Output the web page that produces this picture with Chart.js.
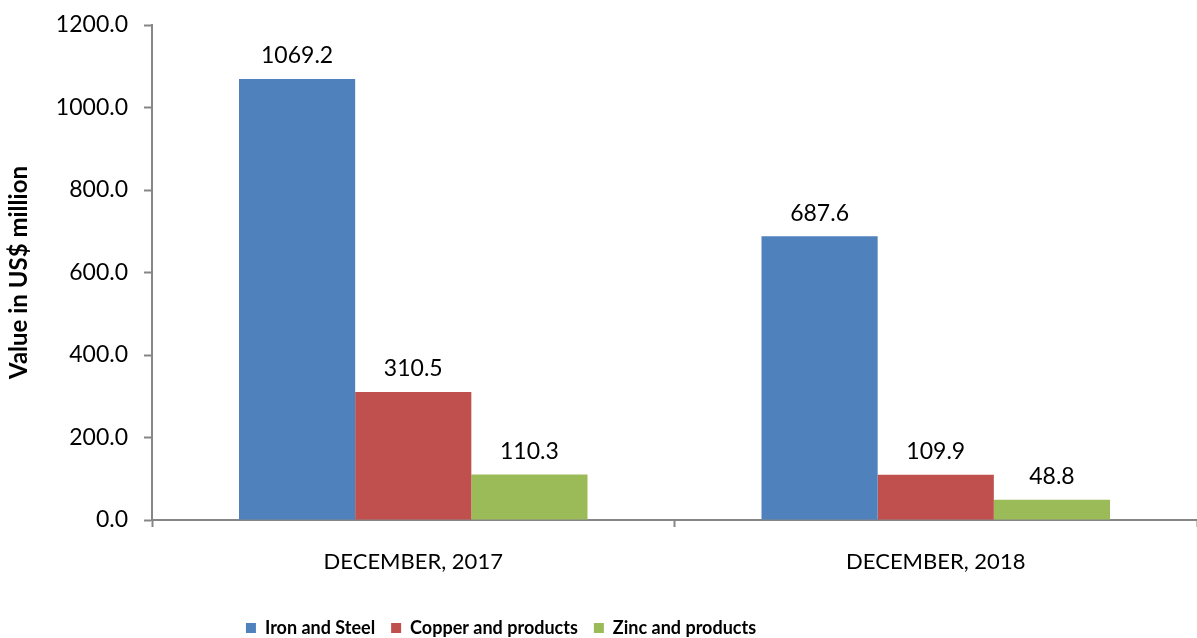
<!DOCTYPE html>
<html>
<head>
<meta charset="utf-8">
<script src="https://cdn.jsdelivr.net/npm/chart.js@4/dist/chart.umd.min.js"></script>
<style>
  html, body { margin: 0; padding: 0; background: #fff; }
  #wrap { width: 1197px; height: 638px; position: relative; }
</style>
</head>
<body>
<div id="wrap"><canvas id="chart"></canvas></div>
<script>
const categories = ['DECEMBER, 2017', 'DECEMBER, 2018'];
const seriesNames = ['Iron and Steel', 'Copper and products', 'Zinc and products'];
const ironSteel = [1069.2, 687.6];
const copper = [310.5, 109.9];
const zinc = [110.3, 48.8];
const yTicks = [0, 200, 400, 600, 800, 1000, 1200];

const colors = ['#4f81bd', '#c0504d', '#9bbb59'];
const axisColor = '#868686';
const fontFam = "Lato, 'Open Sans', sans-serif";

// value labels over the bars
const barLabels = {
    id: 'barLabels',
    afterDatasetsDraw(chart) {
        const ctx = chart.ctx;
        ctx.save();
        ctx.font = '23px ' + fontFam;
        ctx.fillStyle = '#000';
        ctx.textAlign = 'center';
        ctx.textBaseline = 'middle';
        chart.data.datasets.forEach((ds, i) => {
            chart.getDatasetMeta(i).data.forEach((bar, j) => {
                ctx.fillText(ds.data[j].toFixed(1), bar.x, bar.y - 23);
            });
        });
        ctx.restore();
    }
};

// legend sits a bit left of centre and lower, like the original
const legendShift = {
    id: 'legendShift',
    afterLayout(chart) {
        const lg = chart.legend;
        if (lg) {
            lg.left = 0;
            lg.right = 1002;
            lg.top = 628 - lg.options.labels.padding - 9;
        }
    }
};

new Chart(document.getElementById('chart').getContext('2d'), {
    type: 'bar',
    data: {
        labels: categories,
        datasets: [
            { label: seriesNames[0], data: ironSteel, backgroundColor: colors[0] },
            { label: seriesNames[1], data: copper, backgroundColor: colors[1] },
            { label: seriesNames[2], data: zinc, backgroundColor: colors[2] }
        ]
    },
    options: {
        responsive: true,
        maintainAspectRatio: false,
        animation: false,
        layout: { padding: { top: 25, right: -7, left: 0, bottom: 0 } },
        datasets: {
            bar: { categoryPercentage: 0.667, barPercentage: 1.0 }
        },
        plugins: {
            legend: {
                position: 'bottom',
                labels: {
                    boxWidth: 10,
                    boxHeight: 10,
                    padding: 16,
                    color: '#000',
                    font: { family: fontFam, size: 18, weight: 'bold' }
                }
            },
            tooltip: { enabled: false }
        },
        scales: {
            x: {
                grid: {
                    offset: true,
                    drawOnChartArea: false,
                    color: axisColor,
                    tickLength: 7,
                    tickWidth: 2
                },
                border: { color: axisColor, width: 2 },
                ticks: {
                    color: '#000',
                    padding: 22,
                    font: { family: fontFam, size: 22 }
                },
                afterFit(scale) { scale.height = 74; }
            },
            y: {
                min: 0,
                max: 1200,
                afterBuildTicks(scale) { scale.ticks = yTicks.map(v => ({ value: v })); },
                grid: {
                    drawOnChartArea: false,
                    color: axisColor,
                    tickLength: 8,
                    tickWidth: 2
                },
                border: { color: axisColor, width: 2 },
                ticks: {
                    color: '#000',
                    padding: 16,
                    font: { family: fontFam, size: 23 },
                    callback: v => Number(v).toFixed(1)
                },
                title: {
                    display: true,
                    text: 'Value in US$ million',
                    color: '#000',
                    padding: { top: 5, bottom: 0 },
                    font: { family: fontFam, size: 24, weight: 'bold' }
                },
                afterFit(scale) {
                    scale.width = 152;
                    scale.paddingTop = 0;
                    scale.paddingBottom = 0;
                }
            }
        }
    },
    plugins: [barLabels, legendShift]
});
</script>
</body>
</html>
